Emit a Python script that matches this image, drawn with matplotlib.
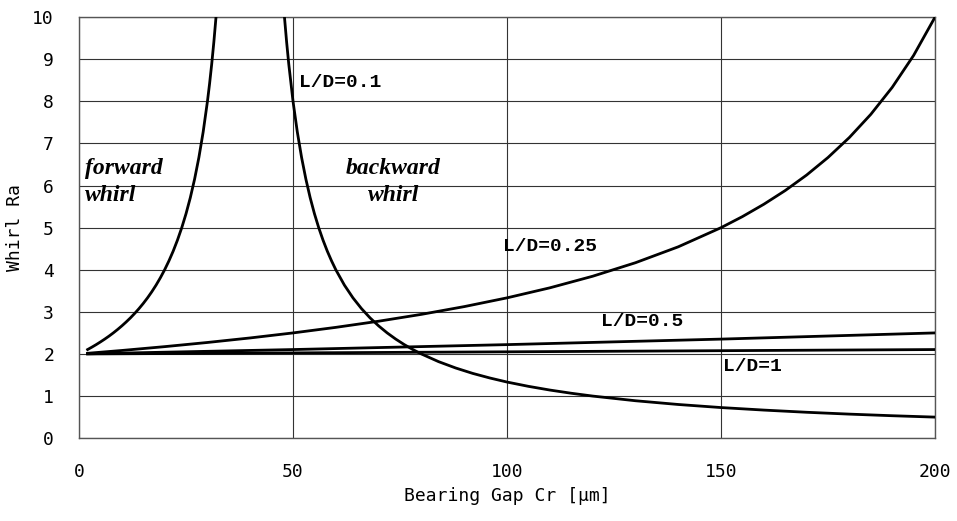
import numpy as np
import matplotlib
matplotlib.use('Agg')
import matplotlib.pyplot as plt

# L/D = 0.1, forward whirl branch
x_fwd = [2, 3, 4, 5, 6, 7, 8, 9, 10, 11, 12, 13, 14, 15, 16, 17, 18, 19, 20,
         21, 22, 23, 24, 25, 26, 27, 28, 29, 30, 30.5, 31, 31.5, 32]
y_fwd = [2.105, 2.162, 2.222, 2.286, 2.353, 2.424, 2.5, 2.581, 2.667, 2.759,
         2.857, 2.963, 3.077, 3.2, 3.333, 3.478, 3.636, 3.810, 4.0, 4.211,
         4.444, 4.706, 5.0, 5.333, 5.714, 6.154, 6.667, 7.273, 8.0, 8.421,
         8.889, 9.412, 10.0]

# L/D = 0.1, backward whirl branch
x_bwd = [48, 48.5, 49, 50, 51, 52, 53, 54, 55, 56, 57, 58, 59, 60, 62, 64, 66,
         68, 70, 72, 74, 76, 78, 80, 84, 88, 92, 96, 100, 105, 110, 115, 120,
         130, 140, 150, 160, 170, 180, 190, 200]
y_bwd = [10.0, 9.412, 8.889, 8.0, 7.273, 6.667, 6.154, 5.714, 5.333, 5.0,
         4.706, 4.444, 4.211, 4.0, 3.636, 3.333, 3.077, 2.857, 2.667, 2.5,
         2.353, 2.222, 2.105, 2.0, 1.818, 1.667, 1.538, 1.429, 1.333, 1.231,
         1.143, 1.067, 1.0, 0.889, 0.8, 0.727, 0.667, 0.615, 0.571, 0.533, 0.5]

# L/D = 0.25
x_025 = [2, 10, 20, 30, 40, 50, 60, 70, 80, 90, 100, 110, 120, 130, 140, 150,
         155, 160, 165, 170, 175, 180, 185, 190, 195, 200]
y_025 = [2.016, 2.083, 2.174, 2.273, 2.381, 2.5, 2.632, 2.778, 2.941, 3.125,
         3.333, 3.571, 3.846, 4.167, 4.545, 5.0, 5.263, 5.556, 5.882, 6.25,
         6.667, 7.143, 7.692, 8.333, 9.091, 10.0]

# L/D = 0.5
x_05 = [2, 50, 100, 150, 200]
y_05 = [2.004, 2.105, 2.222, 2.353, 2.5]

# L/D = 1
x_1 = [2, 100, 200]
y_1 = [2.001, 2.051, 2.105]

fig = plt.figure(figsize=(9.57, 5.21), dpi=100)
ax = fig.add_axes([0.0826, 0.159, 0.8944, 0.808])

lw = 2.0
for xs, ys in [(x_fwd, y_fwd), (x_bwd, y_bwd), (x_025, y_025), (x_05, y_05), (x_1, y_1)]:
    ax.plot(xs, ys, color='black', lw=lw, zorder=3, solid_joinstyle='round')

ax.set_xlim(0, 200)
ax.set_ylim(0, 10)
ax.set_xticks(np.arange(0, 201, 50))
ax.set_yticks(np.arange(0, 11, 1))
ax.grid(True, color='#333333', lw=0.8)
ax.tick_params(length=0, labelsize=13, pad=18)
for lab in ax.get_xticklabels() + ax.get_yticklabels():
    lab.set_family('DejaVu Sans Mono')
for s in ax.spines.values():
    s.set_color('#555555')
    s.set_linewidth(1.0)

ax.set_xlabel('Bearing Gap Cr [μm]', fontsize=13, family='DejaVu Sans Mono', labelpad=4)
ax.set_ylabel('Whirl Ra', fontsize=13, family='DejaVu Sans Mono', labelpad=6)

# annotations
mono = dict(family='Liberation Mono', weight='bold', fontsize=14, va='center')
ax.text(51.5, 8.45, 'L/D=0.1', **mono)
ax.text(99, 4.56, 'L/D=0.25', **mono)
ax.text(122, 2.76, 'L/D=0.5', **mono)
ax.text(150.5, 1.71, 'L/D=1', **mono)

ital = dict(family='Liberation Serif', weight='bold', style='italic', fontsize=17, va='center')
ax.text(1.5, 6.4, 'forward', ha='left', **ital)
ax.text(1.5, 5.77, 'whirl', ha='left', **ital)
ax.text(73.5, 6.4, 'backward', ha='center', **ital)
ax.text(73.5, 5.77, 'whirl', ha='center', **ital)

fig.savefig('out.png', dpi=100)
